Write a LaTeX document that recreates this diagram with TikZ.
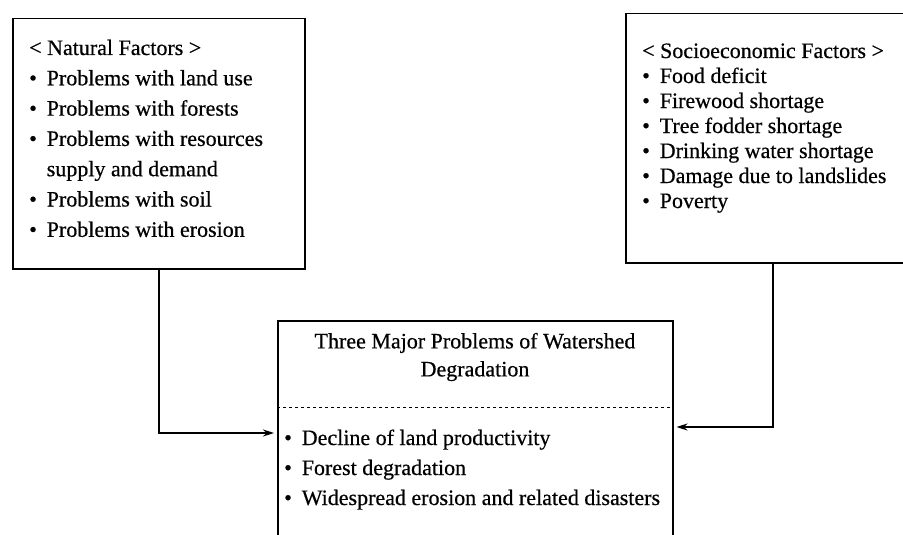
\documentclass[tikz,border=0pt]{standalone}
\usepackage{fontspec}
\setmainfont{Liberation Serif}[FakeBold=0.5]
\usetikzlibrary{arrows.meta}

\tikzset{
  frame/.style={draw, line width=1.5pt, inner sep=0pt, anchor=north west},
  entry/.style={font=\fontsize{22}{28}\selectfont, anchor=base west, inner sep=0pt},
  link/.style={line width=1.6pt, -{Stealth[length=11pt,width=7pt]}, shorten >=3pt},
}
\newcommand{\bul}{\textbullet\hspace{0.45em}}
\newcommand{\nobul}{\phantom{\textbullet}\hspace{0.45em}}

\begin{document}
\begin{tikzpicture}[x=1pt,y=-1pt]
\useasboundingbox (0,0) rectangle (903,535);
\clip (0,0) rectangle (903,535);
% the three boxes
\node[frame, minimum width=292pt, minimum height=250pt] (natural) at (12,18) {};
\node[frame, minimum width=295pt, minimum height=249pt] (socio) at (625,13) {};
\node[frame, minimum width=395pt, minimum height=240pt] (problems) at (277,320) {};
% natural factors
\foreach \txt [count=\i] in {{< Natural Factors >}, {\bul Problems with land use},
  {\bul Problems with forests}, {\bul Problems with resources},
  {\nobul supply and demand}, {\bul Problems with soil}, {\bul Problems with erosion}}
  \node[entry] (nat\i) at (29,{55+30.3*(\i-1)}) {\txt};
% socioeconomic factors
\foreach \txt [count=\i] in {{< Socioeconomic Factors >}, {\bul Food deficit},
  {\bul Firewood shortage}, {\bul Tree fodder shortage}, {\bul Drinking water shortage},
  {\bul Damage due to landslides}, {\bul Poverty}}
  \node[entry] (soc\i) at (642,{58+25*(\i-1)}) {\txt};
% watershed problems
\node[entry, anchor=center, align=center] (title) at (475,357)
  {Three Major Problems of Watershed\\Degradation};
\coordinate (split) at (0,407);
\draw[line width=1pt, dash pattern=on 3pt off 3pt] (problems.west |- split) -- (problems.east |- split);
\foreach \txt [count=\i] in {{\bul Decline of land productivity}, {\bul Forest degradation},
  {\bul Widespread erosion and related disasters}}
  \node[entry] (prob\i) at (284,{445+30*(\i-1)}) {\txt};
% connectors
\coordinate (inleft) at (0,433);
\coordinate (inright) at (0,427);
\draw[link] (natural.south) |- (problems.west |- inleft);
\draw[link] (socio.south) |- (problems.east |- inright);
\end{tikzpicture}
\end{document}
